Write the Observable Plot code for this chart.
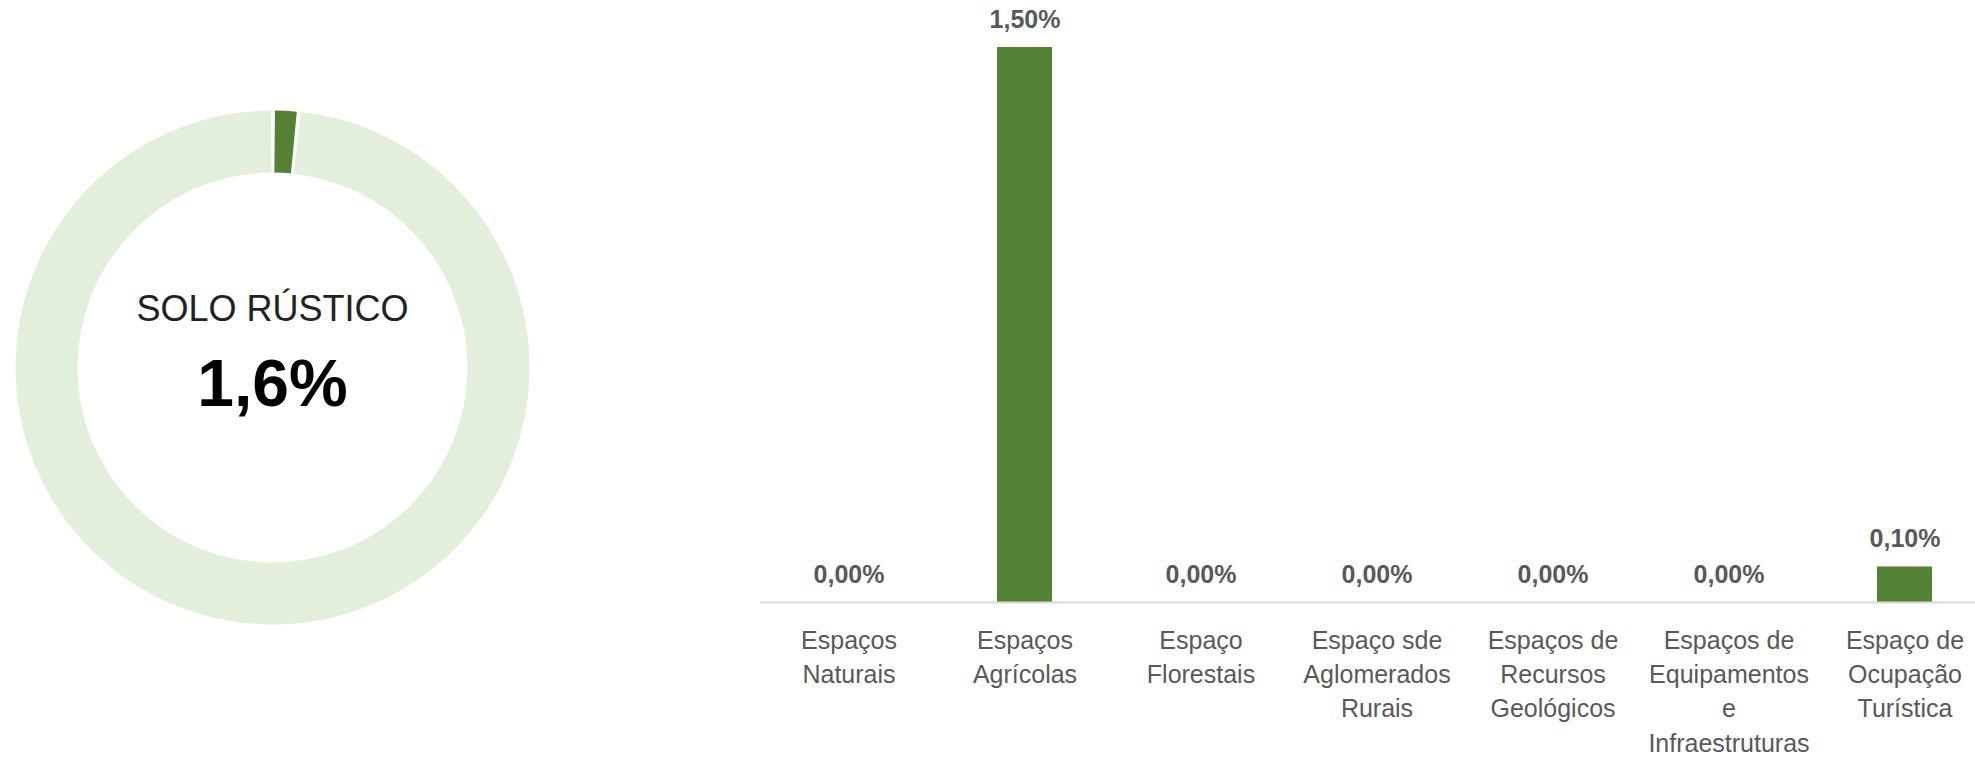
<!DOCTYPE html>
<html><head><meta charset="utf-8">
<script src="https://cdn.jsdelivr.net/npm/d3@7"></script>
<script src="https://cdn.jsdelivr.net/npm/@observablehq/plot@0.6"></script>
<style>
html,body{margin:0;padding:0;background:#fff;overflow:hidden}
#chart{position:relative;width:1975px;height:757px}
#chart svg{position:absolute;left:0;top:0;max-width:none}
</style></head><body><div id="chart"></div>
<script>
// ---- data ----
const donutNames = ["Solo rústico (categoria)", "Restante"];
const donutValues = [1.6, 98.4];
const donutColors = ["#548235", "#E2EFDA"];
const donutTitle = "SOLO RÚSTICO";
const donutTotal = "1,6%";

const categories = [
  "Espaços Naturais",
  "Espaços Agrícolas",
  "Espaço Florestais",
  "Espaço sde Aglomerados Rurais",
  "Espaços de Recursos Geológicos",
  "Espaços de Equipamentos e Infraestruturas",
  "Espaço de Ocupação Turística"
];
const tickLabels = [
  "Espaços\nNaturais",
  "Espaços\nAgrícolas",
  "Espaço\nFlorestais",
  "Espaço sde\nAglomerados\nRurais",
  "Espaços de\nRecursos\nGeológicos",
  "Espaços de\nEquipamentos\ne\nInfraestruturas",
  "Espaço de\nOcupação\nTurística"
];
const values = [0, 1.5, 0, 0, 0, 0, 0.096];

// ---- styles ----
const FONT = "'Liberation Sans', Arial, sans-serif";
const barColor = "#548235";
const textGray = "#595959";

const chart = document.getElementById("chart");

// ---- donut ----
const cx = 272, cy = 367, rOut = 257, rIn = 195;
const rMid = (rOut + rIn) / 2, thick = rOut - rIn;
const C = 2 * Math.PI * rMid;
const total = d3.sum(donutValues);
let acc = 0;
const slices = donutValues.map((v, i) => {
  const f0 = acc / total; acc += v;
  return {name: donutNames[i], value: v, f0, f1: acc / total, color: donutColors[i]};
});
const gapPx = 3.5;
function dash(f0, f1) {
  let s = (((0.75 + f0) % 1) * C + gapPx / 2) % C;
  const L = (f1 - f0) * C - gapPx;
  if (s + L <= C) return `0 ${s} ${L} ${C * 2}`;
  const e = s + L - C;
  return `${e} ${s - e} ${C - s} ${C * 2}`;
}

const donut = Plot.plot({
  width: 560, height: 757, margin: 0,
  x: {domain: [-1, 1], range: [cx - rOut, cx + rOut], axis: null},
  y: {domain: [-1, 1], range: [cy + rOut, cy - rOut], axis: null},
  style: {background: "transparent", fontFamily: FONT},
  marks: [
    ...slices.map(s => Plot.dot([s], {
      x: 0, y: 0, r: rMid, fill: "none", stroke: s.color,
      strokeWidth: thick, strokeDasharray: dash(s.f0, s.f1)
    })),
    Plot.text([donutTitle], {x: 0, y: 0, text: d => d, dy: -47, lineAnchor: "bottom",
      fontSize: 36, fill: "#222"}),
    Plot.text([donutTotal], {x: 0, y: 0, text: d => d, dy: 38, lineAnchor: "bottom",
      fontSize: 66, fontWeight: "bold", fill: "#000"})
  ]
});
chart.appendChild(donut);

// ---- bars ----
const data = categories.map((c, i) => ({cat: c, value: values[i], tick: tickLabels[i]}));
const fmt = v => v.toFixed(2).replace(".", ",") + "%";

const bars = Plot.plot({
  width: 1975, height: 757,
  marginLeft: 760, marginRight: 0, marginTop: 47, marginBottom: 155,
  x: {domain: categories, range: [760.2, 1993.6], paddingInner: 0.688, paddingOuter: 0.344},
  y: {domain: [0, 1.5], axis: null},
  style: {background: "transparent", fontFamily: FONT, color: textGray},
  marks: [
    Plot.barY(data, {x: "cat", y: "value", fill: barColor}),
    Plot.ruleY([0], {stroke: "#D9D9D9", strokeWidth: 2}),
    Plot.text(data, {x: "cat", y: "value", text: d => fmt(d.value), dy: -20, lineAnchor: "bottom",
      fontSize: 25, fontWeight: "bold", fill: textGray}),
    Plot.axisX({tickSize: 0, tickPadding: 22, label: null, fontSize: 25, lineHeight: 1.37,
      tickFormat: d => tickLabels[categories.indexOf(d)]})
  ]
});
chart.appendChild(bars);
</script>
</body></html>
